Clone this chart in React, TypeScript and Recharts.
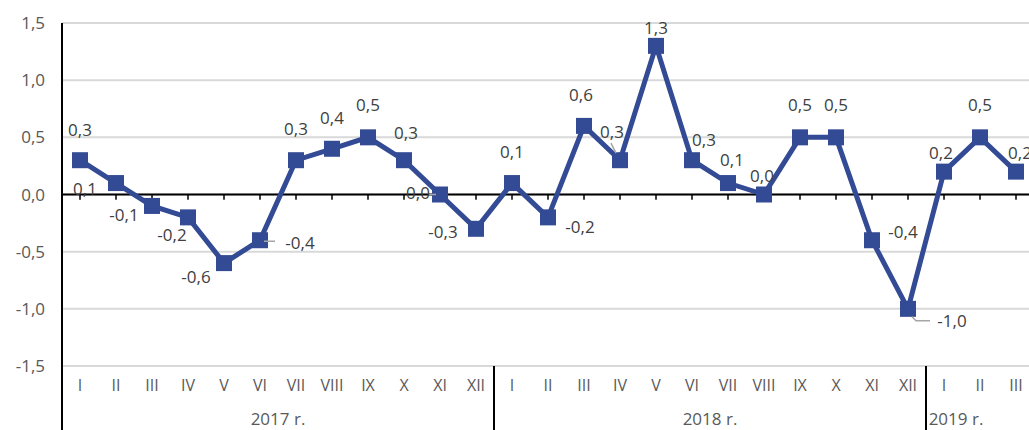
import { CartesianGrid, LabelList, Line, LineChart, ReferenceLine, XAxis, YAxis } from "recharts";

const MONTHS = ["I", "II", "III", "IV", "V", "VI", "VII", "VIII", "IX", "X", "XI", "XII"];
const YEARS = ["2017 r.", "2018 r.", "2019 r."];
const VALUES_2017 = [0.3, 0.1, -0.1, -0.2, -0.6, -0.4, 0.3, 0.4, 0.5, 0.3, 0.0, -0.3];
const VALUES_2018 = [0.1, -0.2, 0.6, 0.3, 1.3, 0.3, 0.1, 0.0, 0.5, 0.5, -0.4, -1.0];
const VALUES_2019 = [0.2, 0.5, 0.2];
const Y_TICKS = [-1.5, -1.0, -0.5, 0, 0.5, 1.0, 1.5];

const rows = [
  ...VALUES_2017.map((v, i) => ({ key: `2017-${i}`, month: MONTHS[i], value: v })),
  ...VALUES_2018.map((v, i) => ({ key: `2018-${i}`, month: MONTHS[i], value: v })),
  ...VALUES_2019.map((v, i) => ({ key: `2019-${i}`, month: MONTHS[i], value: v })),
];

// label placement relative to each point, [dx, dy]
const LABEL_OFFSET: [number, number][] = [
  [0, -30], [-31, 6], [-28, 9], [-16, 18], [-28, 14], [40, 3],
  [0, -31], [0, -31], [0, -32], [2, -27], [-22, -2], [-33, 3],
  [0, -31], [32, 10], [-3, -31], [-8, -28], [0, -18], [12, -20],
  [4, -23], [-2, -19], [0, -32], [0, -32], [31, -8], [44, 12],
  [-3, -19], [0, -32], [4, -19],
];

const LINE = "#334A94";
const FONT = "'Open Sans', sans-serif";
const CHART_W = 1040;
const CHART_H = 430;
const Y_W = 62;
const X_H = 64;
const RIGHT = 6;
const BAND = (CHART_W - Y_W - RIGHT) / rows.length;
const AXIS_TOP = CHART_H - X_H;

const fmt = (v: number) => v.toFixed(1).replace(".", ",");

function Square({ cx, cy }: { cx?: number; cy?: number }) {
  if (cx == null || cy == null) return null;
  return <rect x={cx - 8} y={cy - 8} width={16} height={16} fill={LINE} />;
}

function PointLabel(props: any) {
  const { x, y, value, index } = props;
  if (x == null || y == null) return null;
  const [dx, dy] = LABEL_OFFSET[index] ?? [0, -30];
  let leader = null;
  if (index === 5) leader = <path d={`M${x + 4},${y + 1}H${x + 15}`} />;
  if (index === 10) leader = <path d={`M${x - 11},${y}H${x - 4}`} />;
  if (index === 15) leader = <path d={`M${x - 9},${y - 17}L${x - 4},${y - 7}`} />;
  if (index === 23) leader = <path d={`M${x + 4},${y + 8}L${x + 8},${y + 12}H${x + 22}`} />;
  return (
    <g>
      {leader && (
        <g stroke="#a6a6a6" strokeWidth={1.5} fill="none">
          {leader}
        </g>
      )}
      <text
        x={x + dx}
        y={y + dy + 6}
        textAnchor="middle"
        style={{ fontSize: 17, fontFamily: FONT }}
        fill="#404040"
      >
        {fmt(value)}
      </text>
    </g>
  );
}

function MonthTick(props: any) {
  const { x, payload } = props;
  const i = payload.index as number;
  const row = rows[i];
  const year = i < 12 ? 0 : i < 24 ? 1 : 2;
  const yearLabelAt = i === 5 || i === 17 || i === 24;
  return (
    <g>
      <text
        x={x}
        y={AXIS_TOP + 25}
        textAnchor="middle"
        style={{ fontSize: 16, fontFamily: FONT }}
        fill="#595959"
      >
        {row.month}
      </text>
      {yearLabelAt && (
        <text
          x={x + (i === 24 ? 12 : BAND / 2)}
          y={AXIS_TOP + 59}
          textAnchor="middle"
          style={{ fontSize: 17, fontFamily: FONT }}
          fill="#595959"
        >
          {YEARS[year]}
        </text>
      )}
      {i === 0 && (
        <line x1={x - BAND / 2} x2={x - BAND / 2} y1={AXIS_TOP} y2={CHART_H} stroke="#000" strokeWidth={2} />
      )}
      {(i === 11 || i === 23) && (
        <line x1={x + BAND / 2} x2={x + BAND / 2} y1={AXIS_TOP} y2={CHART_H} stroke="#000" strokeWidth={2} />
      )}
    </g>
  );
}

export default function App() {
  return (
    <div
      style={{
        position: "fixed",
        left: 0,
        top: 0,
        width: 1029,
        height: 430,
        overflow: "hidden",
        background: "#fff",
      }}
    >
      <LineChart
        width={CHART_W}
        height={CHART_H}
        data={rows}
        margin={{ top: 23, right: RIGHT, bottom: 0, left: 0 }}
      >
        <CartesianGrid vertical={false} stroke="#d9d9d9" strokeWidth={2} />
        <XAxis
          dataKey="key"
          height={X_H}
          interval={0}
          axisLine={false}
          tickLine={false}
          padding={{ left: BAND / 2, right: BAND / 2 }}
          tick={<MonthTick />}
        />
        <YAxis
          width={Y_W}
          domain={[-1.5, 1.5]}
          ticks={Y_TICKS}
          tickFormatter={fmt}
          axisLine={{ stroke: "#000", strokeWidth: 2 }}
          tickLine={false}
          tickSize={0}
          tickMargin={17}
          tick={{ fill: "#595959", fontSize: 17, fontFamily: FONT }}
        />
        <ReferenceLine y={0} stroke="#000" strokeWidth={2} />
        {rows.map((r) => (
          <ReferenceLine
            key={r.key}
            segment={[
              { x: r.key, y: 0 },
              { x: r.key, y: -0.045 },
            ]}
            stroke="#000"
            strokeWidth={1.5}
          />
        ))}
        <Line
          dataKey="value"
          stroke={LINE}
          strokeWidth={5}
          dot={<Square />}
          activeDot={false}
          isAnimationActive={false}
        >
          <LabelList dataKey="value" content={<PointLabel />} />
        </Line>
      </LineChart>
    </div>
  );
}
